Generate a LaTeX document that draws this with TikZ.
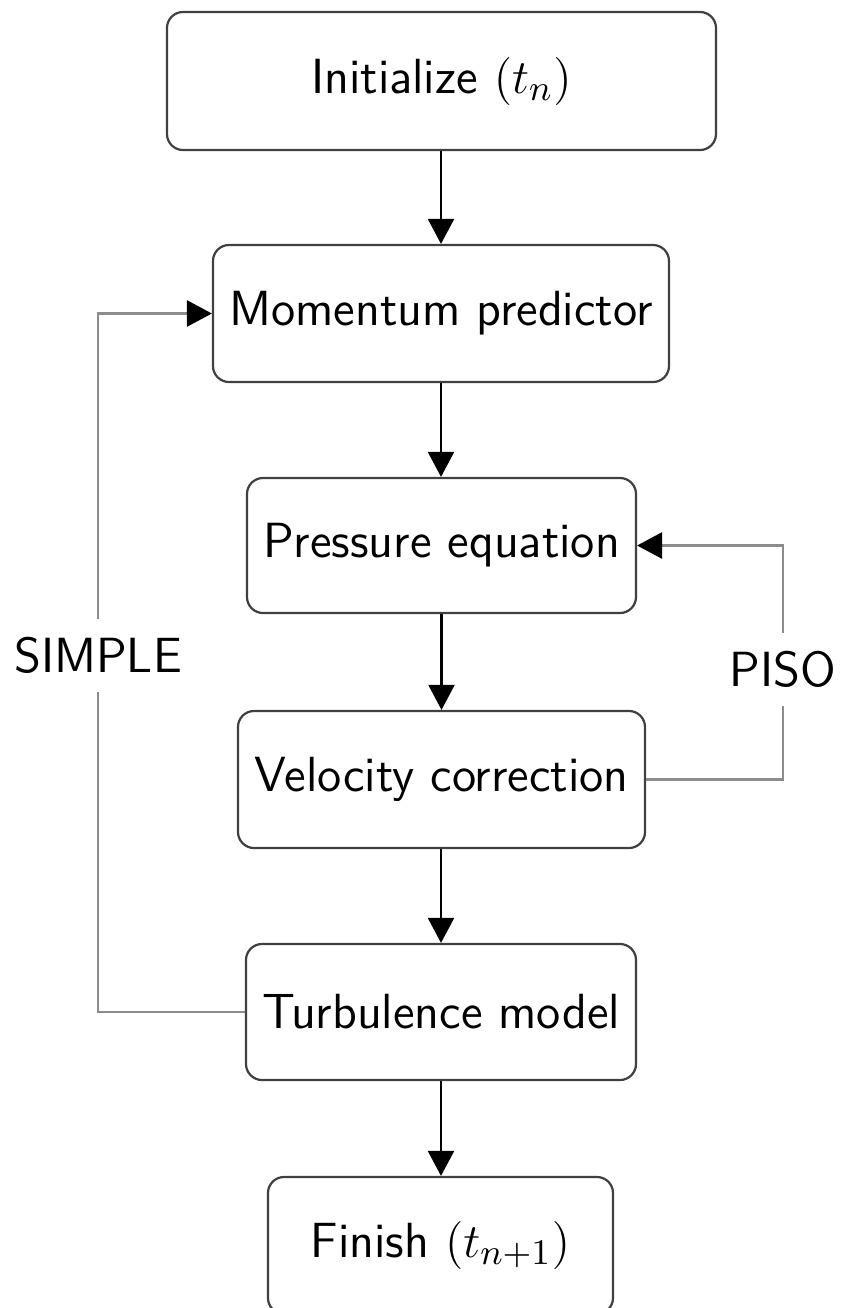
\documentclass[tikz,border=0pt]{standalone}
\usetikzlibrary{arrows.meta}
\begin{document}
\begin{tikzpicture}[x=0.25pt,y=-0.25pt,
  stepbox/.style={draw=black!75, line width=0.55pt, rounded corners=4pt, inner sep=0pt,
    font=\fontsize{12.35}{14.8}\selectfont\sffamily},
  flow/.style={line width=0.55pt, -{Triangle[length=6.25pt,width=6.5pt]}},
  loopline/.style={draw=black!45, line width=0.7pt, -{Triangle[length=6.25pt,width=6.5pt,color=black]}},
  lbl/.style={fill=white, inner xsep=1pt, inner ysep=4.5pt, font=\fontsize{12.35}{14.8}\selectfont\sffamily}]
\useasboundingbox (0,0) rectangle (840,1308);
\node[stepbox, minimum width=137.25pt, minimum height=34.5pt] (init) at (441.5,81) {Initialize $(t_n)$};
\node[stepbox, minimum width=114pt, minimum height=34.25pt] (mom) at (441,313.5) {Momentum predictor};
\node[stepbox, minimum width=97.25pt, minimum height=33.75pt] (pres) at (441.5,545.5) {Pressure equation};
\node[stepbox, minimum width=101.75pt, minimum height=34.25pt] (vel) at (441.5,779.5) {Velocity correction};
\node[stepbox, minimum width=97.5pt, minimum height=34pt] (turb) at (441,1012) {Turbulence model};
\node[stepbox, minimum width=86.25pt, minimum height=34.25pt] (fin) at (440.5,1245.5) {Finish $(t_{n+1})$};
\draw[flow] (init.south -| mom.north) -- (mom.north);
\draw[flow] (mom.south) -- (mom.south |- pres.north);
\draw[flow] (pres.south) -- (pres.south |- vel.north);
\draw[flow] (vel.south -| turb.north) -- (turb.north);
\draw[flow] (turb.south) -- (turb.south |- fin.north);
\coordinate (sL) at (98,1012);
\coordinate (sT) at (98,313.5);
\coordinate (pR) at (783,779.5);
\coordinate (pT) at (783,545.5);
\draw[loopline] (turb.west) -- (sL) -- (sT) -- (mom.west);
\draw[loopline] (vel.east) -- (pR) -- (pT) -- (pres.east);
\node[lbl] (simple) at (98,655.5) {SIMPLE};
\node[lbl] (piso) at (783,669.5) {PISO};
\end{tikzpicture}
\end{document}
